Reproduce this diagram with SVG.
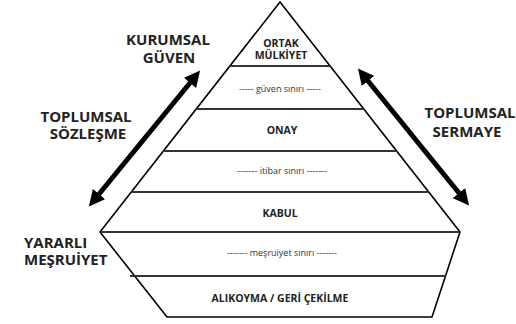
<svg xmlns="http://www.w3.org/2000/svg" width="516" height="324" viewBox="0 0 516 324">
<style>
.outline{fill:#fff;stroke:#000;stroke-width:1.6;stroke-linejoin:miter}
.div{stroke:#333;stroke-width:2}
.lbl{font-family:"Open Sans","Liberation Sans",sans-serif;font-weight:bold;font-size:15px;fill:#222;text-anchor:middle}
.in{font-family:"Open Sans","Liberation Sans",sans-serif;font-weight:bold;font-size:10.5px;fill:#222;text-anchor:middle}
.dash{font-family:"Open Sans","Liberation Sans",sans-serif;font-size:9px;fill:#333;text-anchor:middle}
.arr{stroke:#000;stroke-width:5;fill:none}
</style>
<defs>
<marker id="ah" viewBox="0 0 10 10" refX="4" refY="5" markerWidth="3.2" markerHeight="3.2" orient="auto-start-reverse" markerUnits="strokeWidth">
<path d="M0,0 L10,5 L0,10 z" fill="#000"/>
</marker>
</defs>
<g id="pyramid">
<path class="outline" d="M280,2 L460,232 L432,317 L167,317 L100,232 Z"/>
</g>
<g id="dividers">
<line class="div" x1="229" y1="66" x2="331" y2="66"/>
<line class="div" x1="196" y1="109" x2="364" y2="109"/>
<line class="div" x1="163" y1="151" x2="397" y2="151"/>
<line class="div" x1="131" y1="192" x2="429" y2="192"/>
<line class="div" x1="100" y1="232" x2="460" y2="232"/>
<line class="div" x1="130" y1="276" x2="446" y2="276"/>
</g>
<g id="n-ortak"><text class="in" x="281" y="47">ORTAK</text><text class="in" x="281" y="59">MÜLKİYET</text></g>
<g id="n-guven-siniri"><text class="dash" x="280" y="92">----- güven sınırı -----</text></g>
<g id="n-onay"><text class="in" x="282" y="134">ONAY</text></g>
<g id="n-itibar"><text class="dash" x="282" y="174">------- itibar sınırı -------</text></g>
<g id="n-kabul"><text class="in" x="280" y="217">KABUL</text></g>
<g id="n-mesruiyet"><text class="dash" x="282" y="256">------- meşruiyet sınırı -------</text></g>
<g id="n-alikoyma"><text class="in" x="280" y="302">ALIKOYMA / GERİ ÇEKİLME</text></g>
<g id="l-kurumsal"><text class="lbl" x="168" y="45">KURUMSAL</text><text class="lbl" x="169" y="63">GÜVEN</text></g>
<g id="l-sozlesme"><text class="lbl" x="86" y="122">TOPLUMSAL</text><text class="lbl" x="88" y="139">SÖZLEŞME</text></g>
<g id="l-yararli"><text class="lbl" x="24" y="248" style="text-anchor:start">YARARLI</text><text class="lbl" x="24" y="265" style="text-anchor:start">MEŞRUİYET</text></g>
<g id="l-sermaye"><text class="lbl" x="470" y="118">TOPLUMSAL</text><text class="lbl" x="467" y="137">SERMAYE</text></g>
<g id="connectors">
<line class="arr" x1="194" y1="78" x2="95" y2="199" marker-start="url(#ah)" marker-end="url(#ah)"/>
<line class="arr" x1="364" y1="76" x2="463" y2="198" marker-start="url(#ah)" marker-end="url(#ah)"/>
</g>
</svg>
